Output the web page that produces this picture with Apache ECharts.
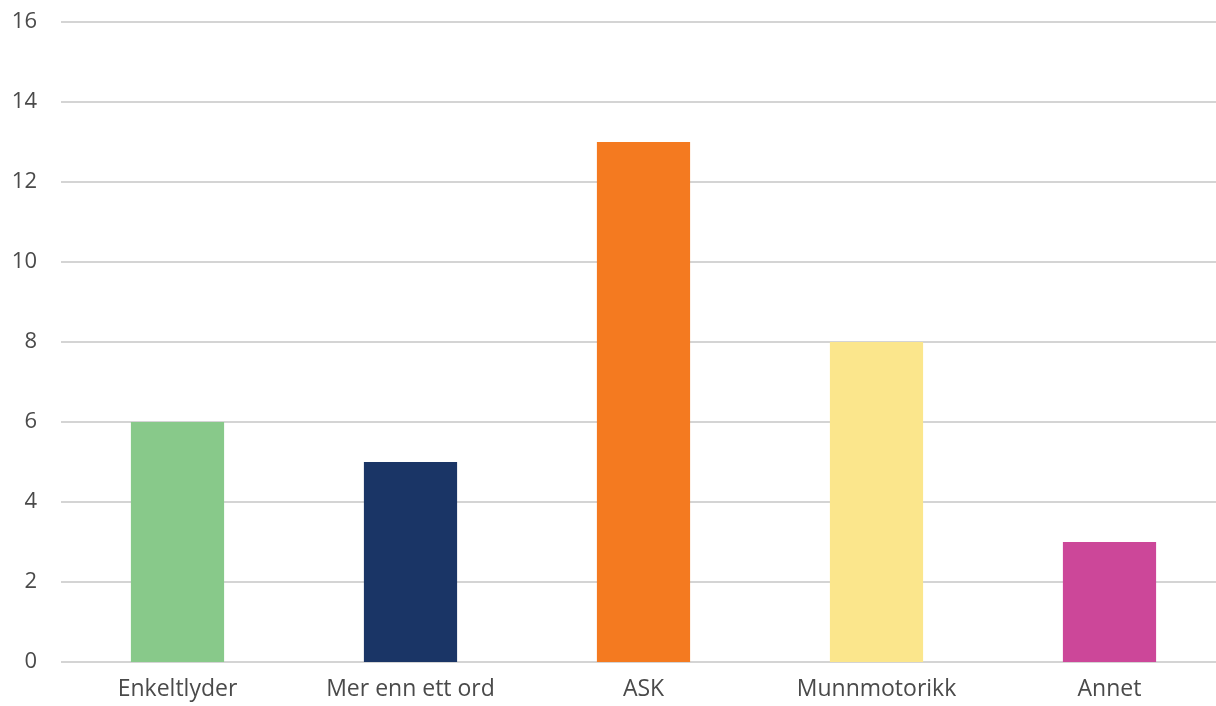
<!DOCTYPE html>
<html>
<head>
<meta charset="utf-8">
<script src="https://cdn.jsdelivr.net/npm/echarts@6/dist/echarts.min.js"></script>
<style>
  html, body { margin: 0; padding: 0; background: #fff; overflow: hidden; }
  #chart { width: 1226px; height: 706px; }
</style>
</head>
<body>
<div id="chart"></div>
<script>
var categories = ['Enkeltlyder', 'Mer enn ett ord', 'ASK', 'Munnmotorikk', 'Annet']
var values = [6, 5, 13, 8, 3]
var barColors = ['#88c98a', '#1a3566', '#f47a20', '#fbe68c', '#cc4799']

var chart = echarts.init(document.getElementById('chart'))
var option = {
  animation: false,
  grid: {
    left: 61,
    right: 0,
    top: 22,
    bottom: 44,
    outerBoundsMode: 'none'
  },
  xAxis: {
    type: 'category',
    data: categories,
    axisLine: { show: false },
    axisTick: { show: false },
    axisLabel: {
      color: '#4a4a4a',
      fontSize: 23,
      fontFamily: 'Open Sans',
      margin: 16
    }
  },
  yAxis: {
    type: 'value',
    min: 0,
    max: 16,
    interval: 2,
    axisLine: { show: false },
    axisTick: { show: false },
    axisLabel: {
      color: '#4a4a4a',
      fontSize: 22,
      fontFamily: 'Open Sans',
      margin: 24
    },
    splitLine: {
      lineStyle: { color: '#d4d4d4', width: 2 }
    }
  },
  series: [
    {
      type: 'bar',
      data: values.map(function (v, i) {
        return { value: v, itemStyle: { color: barColors[i] } }
      }),
      barWidth: '40%'
    }
  ]
}
chart.setOption(option)
</script>
</body>
</html>
